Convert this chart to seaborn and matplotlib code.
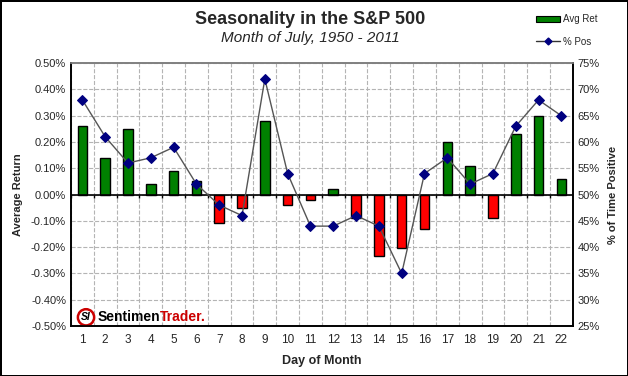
#!/usr/bin/env python3
"""Seasonality in the S&P 500 - July, average return and % positive by trading day."""
import numpy as np
import pandas as pd
import matplotlib
matplotlib.use('Agg')
import matplotlib.pyplot as plt
from matplotlib.lines import Line2D
from matplotlib.patches import Patch
from matplotlib.ticker import FuncFormatter, MultipleLocator
import seaborn as sns

days = [str(d) for d in range(1, 23)]
avg_ret = [0.26, 0.14, 0.25, 0.04, 0.09, 0.05, -0.11, -0.05, 0.28, -0.04, -0.02,
           0.02, -0.09, -0.235, -0.205, -0.13, 0.20, 0.11, -0.09, 0.23, 0.30, 0.06]
pct_pos = [68, 61, 56, 57, 59, 52, 48, 46, 72, 54, 44,
           44, 46, 44, 35, 54, 57, 52, 54, 63, 68, 65]

GREEN = '#008000'
RED = '#ff0000'
NAVY = '#000080'
GRID = '#b4b4b4'

sns.set_style('white')
plt.rcParams['font.family'] = ['Liberation Sans', 'DejaVu Sans']

df = pd.DataFrame({'day': days, 'ret': avg_ret, 'pos': pct_pos})
df['sign'] = np.where(df['ret'] >= 0, 'up', 'down')

fig = plt.figure(figsize=(6.28, 3.76), dpi=100)
fig.patch.set_edgecolor('black')
fig.patch.set_linewidth(2)
ax = fig.add_axes([0.113, 0.133, 0.799, 0.699])

sns.barplot(data=df, x='day', y='ret', hue='sign', palette={'up': GREEN, 'down': RED},
            dodge=False, width=0.42, saturation=1, edgecolor='black', linewidth=1,
            legend=False, ax=ax, zorder=3)
n = len(days)
ax.set_xlim(-0.5, n - 0.5)
ax.set_ylim(-0.5, 0.5)
ax.yaxis.set_major_locator(MultipleLocator(0.1))
ax.yaxis.set_major_formatter(FuncFormatter(lambda v, p: f'{v:.2f}%'))
ax.axhline(0, color='black', linewidth=1.2, zorder=4)
ax.vlines(np.arange(n) - 0.5, -0.012, 0, color='black', linewidth=1, zorder=4)
ax.tick_params(axis='x', which='both', length=0, labelsize=8.5, pad=6)
ax.tick_params(axis='y', length=0, labelsize=8)
ax.set_xlabel('Day of Month', fontsize=9, fontweight='bold', labelpad=6)
ax.set_ylabel('Average Return', fontsize=8, fontweight='bold', labelpad=6)

ax2 = ax.twinx()
sns.lineplot(x=np.arange(n), y=pct_pos, ax=ax2, color='#555555', linewidth=1,
             marker='D', markersize=5, markerfacecolor=NAVY, markeredgecolor=NAVY,
             zorder=5)
ax2.set_ylim(25, 75)
ax2.yaxis.set_major_locator(MultipleLocator(5))
ax2.yaxis.set_major_formatter(FuncFormatter(lambda v, p: f'{v:.0f}%'))
ax2.tick_params(axis='y', length=0, labelsize=8)
ax2.set_ylabel('% of Time Positive', fontsize=8, fontweight='bold', labelpad=6)
ax2.set_xlim(-0.5, n - 0.5)

# dashed grid on the primary axes (horizontal at y ticks, vertical at category edges)
for yv in ax.get_yticks():
    ax.axhline(yv, color=GRID, linestyle='--', linewidth=0.8, zorder=1)
for xv in np.arange(n + 1) - 0.5:
    ax.axvline(xv, color=GRID, linestyle='--', linewidth=0.8, zorder=1)

for a in (ax, ax2):
    for side in ['left', 'right', 'bottom']:
        a.spines[side].set_color('black')
        a.spines[side].set_linewidth(1.2)
    a.spines['top'].set_color('#808080')
    a.spines['top'].set_linewidth(1.2)

fig.text(0.494, 0.948, 'Seasonality in the S&P 500', ha='center', va='center',
         fontsize=13, fontweight='bold')
fig.text(0.494, 0.898, 'Month of July, 1950 - 2011', ha='center', va='center',
         fontsize=11, style='italic')

handles = [Patch(facecolor=GREEN, edgecolor='black', linewidth=0.8, label='Avg Ret'),
           Line2D([0], [0], color='#333333', linewidth=1, marker='D', markersize=3.5,
                  markerfacecolor=NAVY, markeredgecolor=NAVY, label='% Pos')]
fig.legend(handles=handles, loc='upper left', bbox_to_anchor=(0.84, 0.985), frameon=False,
           fontsize=7, handlelength=2.4, handleheight=0.6, labelspacing=1.25,
           handletextpad=0.4)

# logo
badge = ax.text(0.03, 0.033, 'SI', transform=ax.transAxes, fontsize=7.5, fontweight='bold',
                color='black', va='center', ha='center', zorder=6, style='italic',
                bbox=dict(boxstyle='circle,pad=0.3', facecolor='white', edgecolor='#cc0000',
                          linewidth=1.8))
t1 = ax.annotate('Sentimen', xy=(0.053, 0.033), xycoords='axes fraction', fontsize=10,
                 fontweight='bold', color='black', va='center', ha='left', zorder=6)
ax.annotate('Trader.', xy=(1, 0.5), xycoords=t1, fontsize=10, fontweight='bold',
            color='#cc0000', va='center', ha='left', zorder=6)

fig.savefig('out.png', dpi=100)
